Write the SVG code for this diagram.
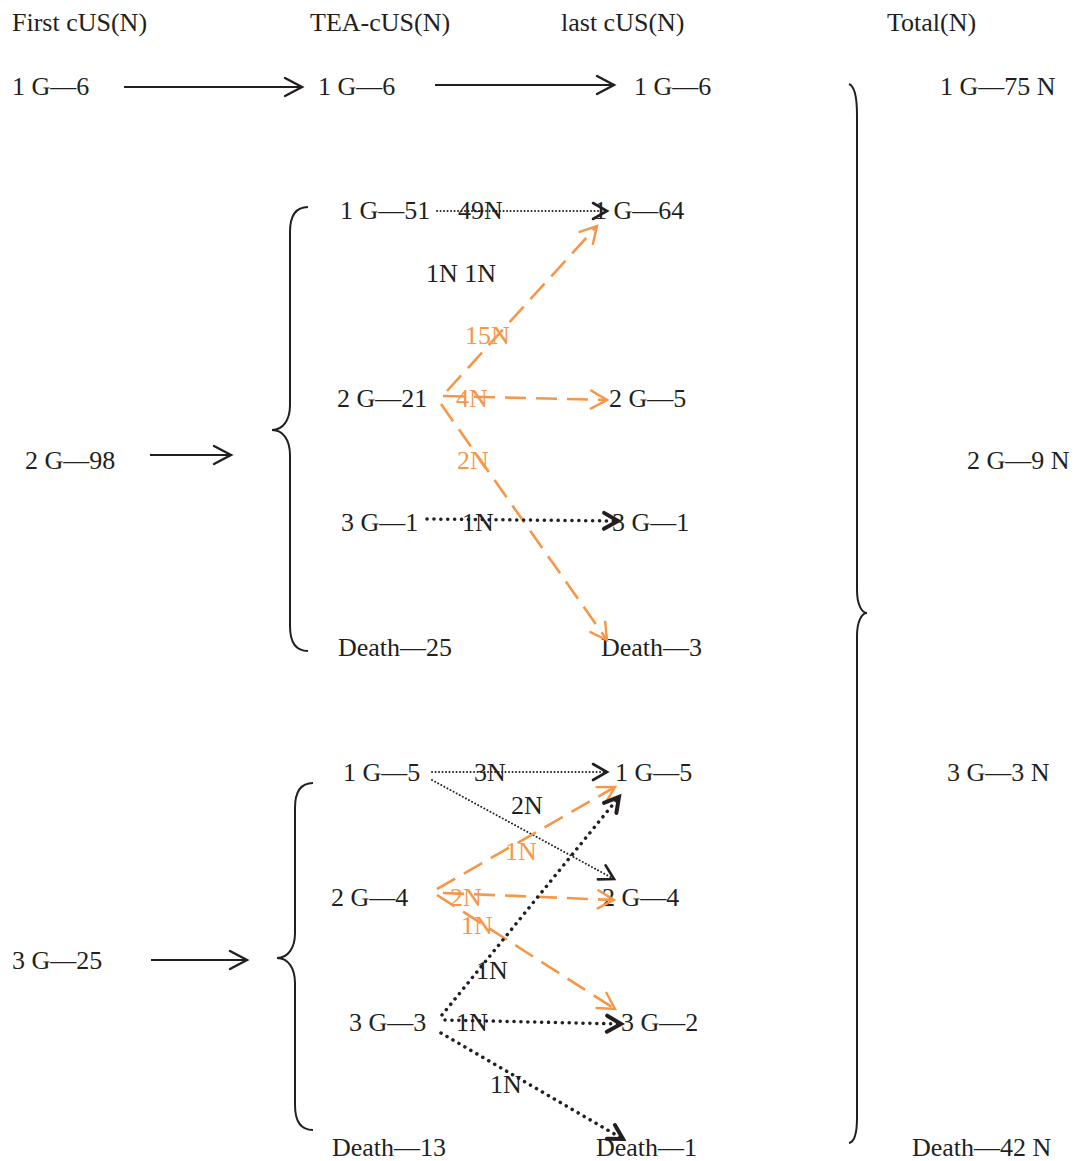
<svg xmlns="http://www.w3.org/2000/svg" width="1077" height="1161" viewBox="0 0 1077 1161">
  <style>
    text { font-family: "Liberation Serif", "Times New Roman", serif; font-size: 26px; fill: #231f20; }
    text.o { fill: #f79646; }
    .solid { stroke: #231f20; stroke-width: 2.2; fill: none; }
    .thin { stroke: #231f20; stroke-width: 1.9; stroke-dasharray: 0.1 3.4; stroke-linecap: round; fill: none; }
    .bold { stroke: #231f20; stroke-width: 3.5; stroke-dasharray: 0.1 6.8; stroke-linecap: round; fill: none; }
    .dash { stroke: #f79646; stroke-width: 2.6; stroke-dasharray: 21 10; fill: none; }
    .brace { stroke: #231f20; stroke-width: 2; fill: none; }
  </style>
  <defs>
    <marker id="mSolid" markerUnits="userSpaceOnUse" viewBox="-24 -16 32 32" markerWidth="32" markerHeight="32" refX="0" refY="0" orient="auto">
      <path d="M-17,-9 L0,0 L-17,9" fill="none" stroke="#231f20" stroke-width="2.4" stroke-linecap="round" stroke-linejoin="miter"/>
    </marker>
    <marker id="mThin" markerUnits="userSpaceOnUse" viewBox="-24 -16 32 32" markerWidth="32" markerHeight="32" refX="0" refY="0" orient="auto">
      <path d="M-14,-8 L0,0 L-14,8" fill="none" stroke="#231f20" stroke-width="2.6" stroke-linecap="round"/>
    </marker>
    <marker id="mBold" markerUnits="userSpaceOnUse" viewBox="-24 -16 32 32" markerWidth="32" markerHeight="32" refX="0" refY="0" orient="auto">
      <path d="M-14,-8 L0,0 L-14,8" fill="none" stroke="#231f20" stroke-width="4" stroke-linecap="round"/>
    </marker>
    <marker id="mOrange" markerUnits="userSpaceOnUse" viewBox="-24 -16 32 32" markerWidth="32" markerHeight="32" refX="0" refY="0" orient="auto">
      <path d="M-16,-9 L0,0 L-16,9" fill="none" stroke="#f79646" stroke-width="2.4" stroke-linecap="round"/>
    </marker>
  </defs>

  <!-- column headers -->
  <g id="headers">
    <text x="12" y="31">First cUS(N)</text>
    <text x="310" y="31">TEA-cUS(N)</text>
    <text x="561" y="31">last cUS(N)</text>
    <text x="887" y="31">Total(N)</text>
  </g>

  <!-- nodes -->
  <g id="n-first-1g"><text x="12" y="95">1 G—6</text></g>
  <g id="n-tea-1g"><text x="318" y="95">1 G—6</text></g>
  <g id="n-last-1g"><text x="634" y="95">1 G—6</text></g>
  <g id="n-total-1g"><text x="940" y="95">1 G—75 N</text></g>

  <g id="n-first-2g"><text x="25" y="469">2 G—98</text></g>
  <g id="n-tea2-1g"><text x="340" y="219">1 G—51</text></g>
  <g id="n-tea2-2g"><text x="337" y="407">2 G—21</text></g>
  <g id="n-tea2-3g"><text x="341" y="531">3 G—1</text></g>
  <g id="n-tea2-death"><text x="338" y="656">Death—25</text></g>
  <g id="n-last2-1g"><text x="594" y="219">1 G—64</text></g>
  <g id="n-last2-2g"><text x="609" y="407">2 G—5</text></g>
  <g id="n-last2-3g"><text x="612" y="531">3 G—1</text></g>
  <g id="n-last2-death"><text x="601" y="656">Death—3</text></g>
  <g id="n-total-2g"><text x="967" y="469">2 G—9 N</text></g>

  <g id="n-first-3g"><text x="12" y="969">3 G—25</text></g>
  <g id="n-tea3-1g"><text x="343" y="781">1 G—5</text></g>
  <g id="n-tea3-2g"><text x="331" y="906">2 G—4</text></g>
  <g id="n-tea3-3g"><text x="349" y="1031">3 G—3</text></g>
  <g id="n-tea3-death"><text x="332" y="1156">Death—13</text></g>
  <g id="n-last3-1g"><text x="615" y="781">1 G—5</text></g>
  <g id="n-last3-2g"><text x="602" y="906">2 G—4</text></g>
  <g id="n-last3-3g"><text x="621" y="1031">3 G—2</text></g>
  <g id="n-last3-death"><text x="596" y="1156">Death—1</text></g>
  <g id="n-total-3g"><text x="947" y="781">3 G—3 N</text></g>
  <g id="n-total-death"><text x="912" y="1156">Death—42 N</text></g>

  <!-- braces -->
  <g id="braces">
    <path class="brace" d="M308,207 C296,207 290,215 290,232 L290,405 C290,420 283,430 272,430 C283,430 290,440 290,455 L290,626 C290,643 296,651 308,651"/>
    <path class="brace" d="M313,783 C301,783 295,791 295,808 L295,933 C295,948 288,958 277,958 C288,958 295,968 295,983 L295,1105 C295,1122 301,1130 313,1130"/>
    <path class="brace" d="M849,84 C854,86 857,95 857,115 L857,590 C857,605 862,613 867,613 C862,613 857,621 857,636 L857,1118 C857,1134 854,1142 849,1143"/>
  </g>

  <!-- connectors -->
  <g id="connectors">
    <line class="solid" x1="124" y1="87" x2="302" y2="87" marker-end="url(#mSolid)"/>
    <line class="solid" x1="435" y1="85" x2="614" y2="85" marker-end="url(#mSolid)"/>
    <line class="solid" x1="150" y1="455" x2="231" y2="455" marker-end="url(#mSolid)"/>
    <line class="solid" x1="151" y1="960" x2="247" y2="960" marker-end="url(#mSolid)"/>

    <line class="thin" x1="437" y1="211" x2="607" y2="211" marker-end="url(#mThin)"/>
    <line class="dash" x1="447" y1="391" x2="597" y2="226" marker-end="url(#mOrange)"/>
    <line class="dash" x1="443" y1="396" x2="607" y2="400" marker-end="url(#mOrange)"/>
    <line class="dash" x1="441" y1="404" x2="607" y2="640" marker-end="url(#mOrange)"/>
    <line class="bold" x1="427" y1="519" x2="618" y2="521" marker-end="url(#mBold)"/>

    <line class="thin" x1="432" y1="772" x2="607" y2="772" marker-end="url(#mThin)"/>
    <line class="thin" x1="432" y1="780" x2="614" y2="879" marker-end="url(#mThin)"/>
    <line class="dash" x1="437" y1="889" x2="615" y2="787" marker-end="url(#mOrange)"/>
    <line class="dash" x1="443" y1="893" x2="614" y2="900" marker-end="url(#mOrange)"/>
    <line class="dash" x1="437" y1="895" x2="615" y2="1009" marker-end="url(#mOrange)"/>
    <line class="bold" x1="442" y1="1015" x2="619" y2="797" marker-end="url(#mBold)"/>
    <line class="bold" x1="445" y1="1020" x2="621" y2="1024" marker-end="url(#mBold)"/>
    <line class="bold" x1="441" y1="1033" x2="623" y2="1139" marker-end="url(#mBold)"/>
  </g>

  <!-- flow counts -->
  <g id="labels">
    <text x="458" y="219">49N</text>
    <text x="426" y="282">1N 1N</text>
    <text class="o" x="465" y="344">15N</text>
    <text class="o" x="456" y="407">4N</text>
    <text class="o" x="457" y="469">2N</text>
    <text x="462" y="531">1N</text>
    <text x="474" y="781">3N</text>
    <text x="511" y="814">2N</text>
    <text class="o" x="505" y="860">1N</text>
    <text class="o" x="450" y="906">2N</text>
    <text class="o" x="461" y="934">1N</text>
    <text x="476" y="979">1N</text>
    <text x="456" y="1031">1N</text>
    <text x="490" y="1093">1N</text>
  </g>
</svg>
